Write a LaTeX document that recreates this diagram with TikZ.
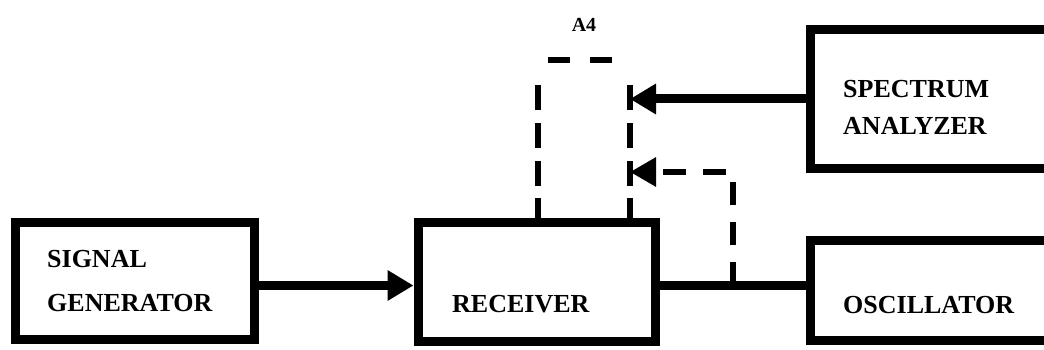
\documentclass[tikz,border=0pt]{standalone}
\usepackage{fontspec}
\setmainfont{Liberation Serif}
\usetikzlibrary{arrows.meta,positioning,calc}

\begin{document}
\begin{tikzpicture}[x=1pt, y=-1pt,
  blk/.style={draw, rectangle, line width=9pt, inner sep=0pt},
  boxtext/.style={font=\fontsize{26}{44}\selectfont\bfseries, align=left, inner sep=0pt},
  wire/.style={line width=9pt},
  sigarrow/.style={wire, -{Triangle[length=26pt,width=29pt]}},
  dashline/.style={line width=6pt, dash pattern=on 25pt off 12.5pt},
  fbline/.style={line width=6pt, dash pattern=on 23pt off 17pt, -{Triangle[length=26pt,width=28pt]}}]
\clip (0,0) rectangle (1044,350);
\fill[white] (0,0) rectangle (1044,350);

% blocks
\node[blk, minimum width=239pt, minimum height=117pt] (sig) at (134.5,280.5) {};
\node[blk, minimum width=237pt, minimum height=119pt] (rcv) at (536.5,282) {};
\node[blk, minimum width=260pt, minimum height=138pt] (spa) at (940,99) {};
\node[blk, minimum width=260pt, minimum height=100pt] (osc) at (940,290) {};
\node[minimum width=92pt, minimum height=163pt, outer sep=0pt, inner sep=0pt] (a4) at (584,141.5) {};

% texts
\node[boxtext, anchor=west] (sigtxt) at (47,281) {SIGNAL\\GENERATOR};
\node[boxtext, anchor=base west] (rcvtxt) at (452,312) {RECEIVER};
\node[boxtext, font=\fontsize{26}{37}\selectfont\bfseries, anchor=west] (spatxt) at (843,107) {SPECTRUM\\ANALYZER};
\node[boxtext, anchor=base west] (osctxt) at (843,313) {OSCILLATOR};
\node[font=\fontsize{20}{24}\selectfont\bfseries, inner sep=0pt, above=28pt of a4.north] (a4txt) {A4};

% A4 outline (dashed)
\draw[dashline] (a4.south west) -- ([yshift=-25pt]a4.north west);
\draw[dashline, dash pattern=on 22pt off 20pt] ([xshift=10pt]a4.north west) -- ([xshift=-17pt]a4.north east);
\draw[dashline] (a4.south east) -- ([yshift=-25pt]a4.north east);

% connectors
\coordinate (tap) at (733,285);
\coordinate (fbk) at (733,172);
\draw[sigarrow] ($(sig.east)+(0,5)$) -- ($(sig.east -| rcv.west)+(0,5)$);
\draw[wire] (rcv.east |- tap) -- (osc.west |- tap);
\draw[sigarrow] (spa.west) -- (a4.east |- spa.west);
\draw[fbline] (tap) -- (fbk) -- (a4.east |- fbk);
\end{tikzpicture}
\end{document}
